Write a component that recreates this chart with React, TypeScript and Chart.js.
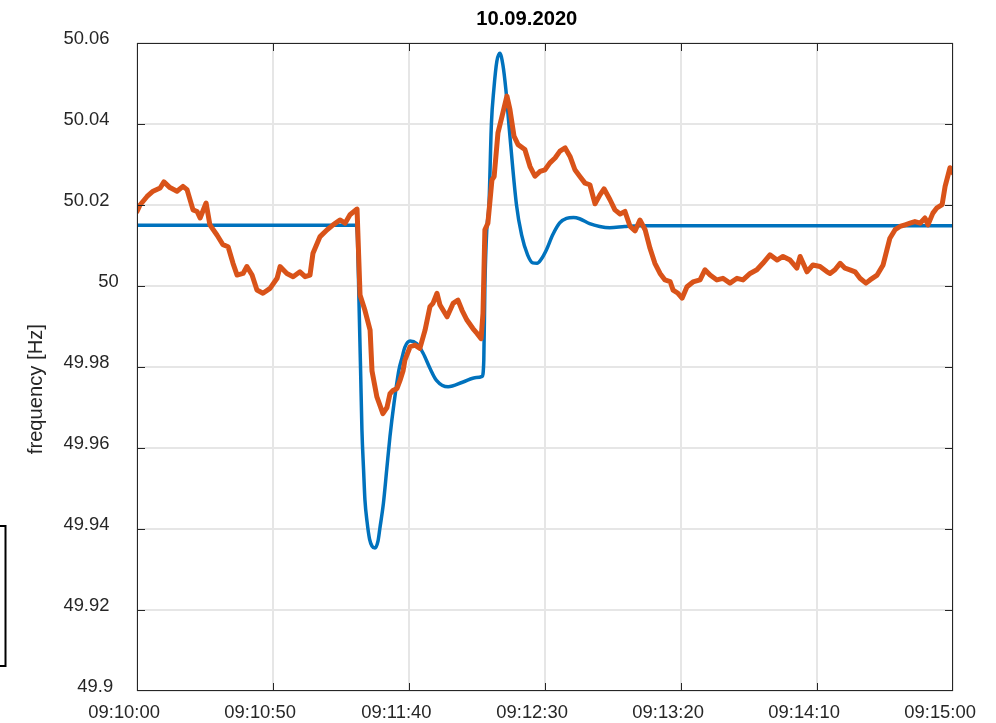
import React, { useEffect, useRef } from 'react';
import { Chart, registerables } from 'chart.js';

Chart.register(...registerables);

const TITLE = '10.09.2020';
const Y_LABEL = 'frequency [Hz]';

const X_TICKS = [0, 50, 100, 150, 200, 250, 300];
const X_TICK_LABELS = ['09:10:00', '09:10:50', '09:11:40', '09:12:30', '09:13:20', '09:14:10', '09:15:00'];
const Y_TICKS = [49.9, 49.92, 49.94, 49.96, 49.98, 50, 50.02, 50.04, 50.06];
const Y_TICK_LABELS = ['49.9', '49.92', '49.94', '49.96', '49.98', '50', '50.02', '50.04', '50.06'];

// simulated frequency (seconds after 09:10:00)
const BLUE_T = [0, 80.5, 81.07, 81.6, 82.2, 82.7, 83.3, 83.8, 84.6, 85.5, 86.4, 87.5, 88.6, 89.3, 90.6, 91.8, 93.0, 94.5, 96.3, 97.4, 98.5, 100.4, 102.8, 105.2, 107.7, 110.1, 114.4, 119.9, 124.8, 126.9, 127.5, 127.9, 128.6, 129.4, 130.3, 131.2, 132.3, 133.4, 134.5, 135.6, 136.7, 139.5, 141.4, 143.6, 145.5, 147.1, 148.4, 150.5, 152.8, 155.4, 157.9, 160.5, 162.7, 166.4, 170.1, 173.8, 179.3, 184.8, 300];
const BLUE_V = [50.015, 50.015, 50.0114, 49.9965, 49.9793, 49.9644, 49.9546, 49.9472, 49.9417, 49.9375, 49.9358, 49.9353, 49.937, 49.9402, 49.9464, 49.9546, 49.9628, 49.9711, 49.9793, 49.9822, 49.9849, 49.9864, 49.9858, 49.9834, 49.9797, 49.9767, 49.9751, 49.9763, 49.9774, 49.9777, 49.9817, 50.0, 50.0139, 50.0201, 50.0401, 50.0486, 50.0555, 50.0575, 50.0547, 50.0486, 50.0401, 50.0201, 50.0126, 50.0077, 50.0057, 50.0056, 50.0064, 50.0089, 50.0126, 50.0156, 50.0167, 50.0169, 50.0166, 50.0154, 50.0147, 50.0144, 50.0147, 50.0149, 50.0149];

// measured frequency (seconds after 09:10:00)
const ORANGE_T = [0, 1.1, 3.7, 5.9, 8.5, 9.9, 12.1, 14.7, 16.9, 18.4, 20.6, 22.1, 23.2, 25.4, 26.8, 29.4, 31.6, 33.5, 35.3, 36.8, 39.0, 40.4, 42.3, 44.1, 46.3, 48.9, 51.5, 52.6, 55.1, 57.4, 59.9, 61.8, 63.6, 64.7, 67.3, 69.9, 72.1, 74.6, 76.5, 78.3, 80.9, 82.0, 83.8, 85.7, 86.4, 88.2, 90.4, 91.9, 93.0, 94.1, 95.6, 96.7, 97.8, 98.5, 100.4, 102.2, 104.0, 105.9, 107.7, 108.8, 110.3, 111.4, 114.0, 116.2, 118.0, 119.5, 121.3, 123.5, 125.0, 126.5, 127.2, 127.9, 129.0, 130.5, 131.3, 132.7, 134.2, 136.0, 137.1, 138.6, 140.1, 142.6, 144.5, 146.3, 148.2, 150.0, 151.8, 153.7, 155.5, 157.4, 159.2, 161.0, 162.9, 164.7, 166.5, 168.4, 170.2, 171.7, 173.9, 175.7, 177.6, 179.4, 181.3, 183.1, 184.9, 186.8, 188.6, 190.4, 192.3, 194.1, 196.0, 197.1, 198.9, 200.4, 202.2, 204.4, 207.0, 208.8, 210.7, 213.2, 215.4, 218.0, 220.6, 222.8, 225.4, 227.9, 230.1, 232.7, 235.3, 237.5, 240.1, 242.6, 243.8, 246.3, 248.5, 251.1, 253.7, 254.8, 256.6, 258.5, 260.3, 262.1, 264.0, 265.8, 268.0, 269.5, 272.1, 274.3, 275.7, 276.8, 278.7, 280.5, 282.4, 284.2, 286.0, 287.9, 289.7, 290.8, 292.6, 294.1, 296.0, 297.1, 298.9, 300];
const ORANGE_V = [50.0184, 50.02, 50.0221, 50.0234, 50.0242, 50.0257, 50.0243, 50.0234, 50.0246, 50.0238, 50.0188, 50.0184, 50.0168, 50.0205, 50.0151, 50.0126, 50.0102, 50.0097, 50.0056, 50.0027, 50.0031, 50.0048, 50.0027, 49.999, 49.9982, 49.9994, 50.0019, 50.0048, 50.0031, 50.0023, 50.0035, 50.0023, 50.0027, 50.0081, 50.0122, 50.0139, 50.0151, 50.0163, 50.0155, 50.0176, 50.019, 49.9978, 49.994, 49.9891, 49.979, 49.9726, 49.9685, 49.97, 49.9734, 49.9742, 49.9747, 49.9767, 49.979, 49.9817, 49.985, 49.9854, 49.9846, 49.9891, 49.9949, 49.9957, 49.9982, 49.9953, 49.9924, 49.9957, 49.9965, 49.994, 49.9916, 49.9895, 49.9883, 49.987, 49.9932, 50.0139, 50.0155, 50.0262, 50.027, 50.0378, 50.0419, 50.0469, 50.0436, 50.037, 50.0349, 50.0337, 50.0295, 50.0271, 50.0283, 50.0287, 50.0304, 50.0316, 50.0333, 50.0341, 50.032, 50.0287, 50.027, 50.0254, 50.025, 50.0203, 50.0225, 50.024, 50.0213, 50.0188, 50.0178, 50.0184, 50.0147, 50.0136, 50.0163, 50.0139, 50.0093, 50.0056, 50.0031, 50.0015, 50.0011, 49.999, 49.9982, 49.997, 49.9998, 50.001, 50.0015, 50.004, 50.0027, 50.0015, 50.0019, 50.0007, 50.0019, 50.0015, 50.0031, 50.004, 50.0056, 50.0077, 50.0064, 50.0073, 50.0064, 50.0044, 50.0073, 50.0035, 50.0052, 50.0048, 50.0035, 50.0031, 50.004, 50.0056, 50.0044, 50.004, 50.0035, 50.0019, 50.0007, 50.0015, 50.0027, 50.0052, 50.0089, 50.0118, 50.0139, 50.0147, 50.0151, 50.0155, 50.0159, 50.0155, 50.0168, 50.0151, 50.018, 50.0193, 50.0201, 50.0246, 50.0292, 50.0279];

const FONT = '"Liberation Sans", Arial, Helvetica, sans-serif';
const AXIS_COLOR = '#262626';

const matlabAxes = {
  id: 'matlabAxes',
  afterDraw(chart: any) {
    const { ctx, chartArea: a, scales } = chart;
    const xs = scales.x;
    const ys = scales.y;
    ctx.save();

    // axes box
    ctx.strokeStyle = AXIS_COLOR;
    ctx.lineWidth = 1;
    ctx.strokeRect(a.left + 0.5, a.top + 0.5, a.right - a.left - 1, a.bottom - a.top - 1);

    // inward ticks (the end ticks coincide with the box)
    const tl = 8;
    ctx.beginPath();
    X_TICKS.slice(1, -1).forEach((v) => {
      const px = Math.round(xs.getPixelForValue(v)) + 0.5;
      ctx.moveTo(px, a.bottom);
      ctx.lineTo(px, a.bottom - tl);
      ctx.moveTo(px, a.top);
      ctx.lineTo(px, a.top + tl);
    });
    Y_TICKS.slice(1, -1).forEach((v) => {
      const py = Math.round(ys.getPixelForValue(v)) + 0.5;
      ctx.moveTo(a.left, py);
      ctx.lineTo(a.left + tl, py);
      ctx.moveTo(a.right, py);
      ctx.lineTo(a.right - tl, py);
    });
    ctx.stroke();

    // tick labels
    ctx.fillStyle = AXIS_COLOR;
    ctx.font = `18.4px ${FONT}`;
    ctx.textBaseline = 'alphabetic';
    ctx.textAlign = 'center';
    X_TICKS.forEach((v, i) => {
      const label = X_TICK_LABELS[i];
      const w = ctx.measureText(label).width;
      const px = xs.getPixelForValue(v);
      ctx.fillText(label, px - 0.18 * w, a.bottom + 27);
    });
    ctx.textAlign = 'right';
    Y_TICKS.forEach((v, i) => {
      const label = Y_TICK_LABELS[i];
      const w = ctx.measureText(label).width;
      const py = ys.getPixelForValue(v);
      ctx.fillText(label, a.left - 11 - 0.36 * w, py + 1.3);
    });

    // title
    ctx.font = `bold 20.2px ${FONT}`;
    ctx.fillStyle = '#000000';
    ctx.textAlign = 'center';
    const tw = ctx.measureText(TITLE).width;
    ctx.fillText(TITLE, (a.left + a.right) / 2 - 0.18 * tw, 25);

    // y axis label
    ctx.font = `20.2px ${FONT}`;
    ctx.fillStyle = AXIS_COLOR;
    const lw = ctx.measureText(Y_LABEL).width;
    ctx.translate(41.5, (a.top + a.bottom) / 2 + 0.17 * lw);
    ctx.rotate(-Math.PI / 2);
    ctx.fillText(Y_LABEL, 0, 0);
    ctx.setTransform(1, 0, 0, 1, 0, 0);

    // partially visible box at the left edge
    ctx.strokeStyle = '#000000';
    ctx.lineWidth = 2;
    ctx.strokeRect(-10, 526, 15.5, 140);

    ctx.restore();
  },
};

export default function App() {
  const canvasRef = useRef<HTMLCanvasElement | null>(null);

  useEffect(() => {
    if (!canvasRef.current) return;
    const blue = BLUE_T.map((t, i) => ({ x: t, y: BLUE_V[i] }));
    const orange = ORANGE_T.map((t, i) => ({ x: t, y: ORANGE_V[i] }));
    const chart = new Chart(canvasRef.current, {
      type: 'line',
      data: {
        datasets: [
          {
            label: 'simulation',
            data: blue,
            borderColor: '#0072BD',
            borderWidth: 3.5,
            pointRadius: 0,
            cubicInterpolationMode: 'monotone',
            borderJoinStyle: 'round',
            borderCapStyle: 'round',
            fill: false,
            order: 1,
          },
          {
            label: 'measurement',
            data: orange,
            borderColor: '#D95319',
            borderWidth: 5,
            pointRadius: 0,
            tension: 0,
            borderJoinStyle: 'round',
            borderCapStyle: 'round',
            fill: false,
            order: 0,
          },
        ],
      },
      options: {
        responsive: false,
        animation: false,
        devicePixelRatio: 1,
        layout: { padding: { left: 137, top: 43, right: 43, bottom: 32 } },
        plugins: {
          legend: { display: false },
          tooltip: { enabled: false },
          title: { display: false },
        },
        scales: {
          x: {
            type: 'linear',
            min: 0,
            max: 300,
            afterBuildTicks: (s: any) => {
              s.ticks = X_TICKS.map((v) => ({ value: v }));
            },
            ticks: { display: false },
            grid: { color: '#e6e6e6', lineWidth: 2, drawTicks: false },
            border: { display: false },
          },
          y: {
            type: 'linear',
            min: 49.9,
            max: 50.06,
            afterBuildTicks: (s: any) => {
              s.ticks = Y_TICKS.map((v) => ({ value: v }));
            },
            ticks: { display: false },
            grid: { color: '#e6e6e6', lineWidth: 2, drawTicks: false },
            border: { display: false },
          },
        },
      },
      plugins: [matlabAxes],
    } as any);
    return () => chart.destroy();
  }, []);

  return (
    <div style={{ position: 'fixed', left: 0, top: 0, width: 996, height: 723, background: '#ffffff' }}>
      <canvas ref={canvasRef} width={996} height={723} style={{ display: 'block' }} />
    </div>
  );
}
